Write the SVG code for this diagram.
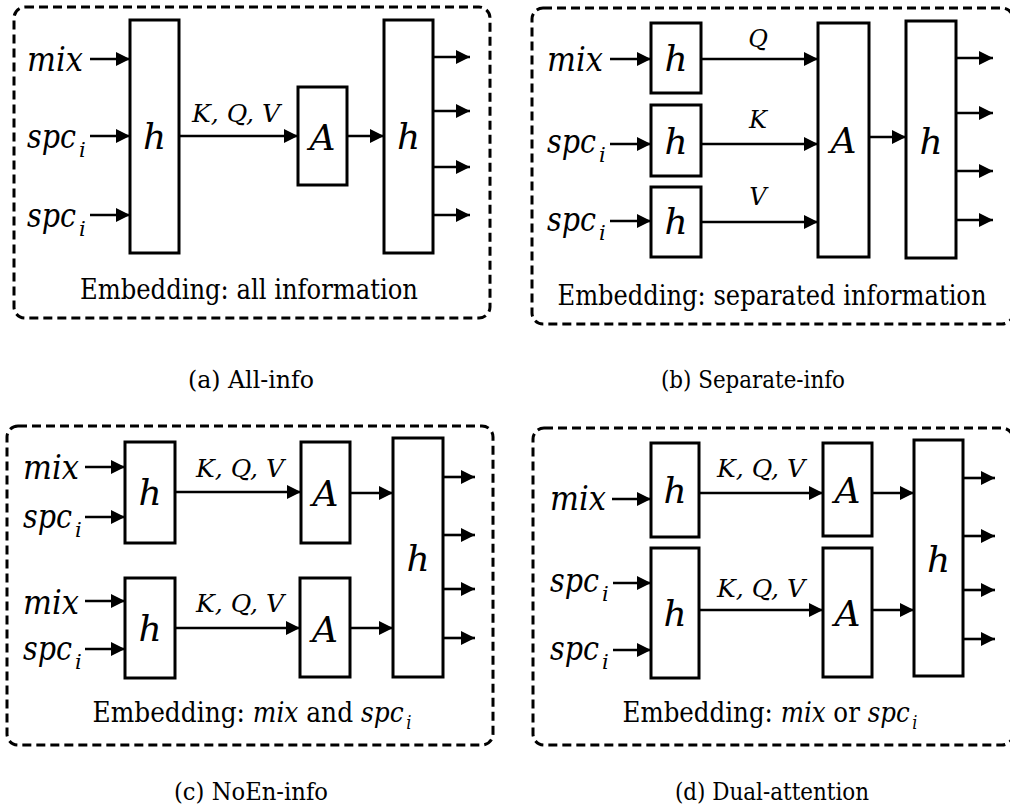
<svg xmlns="http://www.w3.org/2000/svg" width="1010" height="811" viewBox="0 0 1010 811">
<style>
.frame{fill:none;stroke:#000;stroke-width:3;stroke-dasharray:9 5}
.box{fill:#fff;stroke:#000;stroke-width:3}
.conn path{fill:none;stroke:#000;stroke-width:2.6;marker-end:url(#ah)}
text{font-family:"DejaVu Serif",serif}
.big{font-style:italic;font-size:36px;text-anchor:middle}
.lbl{font-style:italic;font-size:34px}
.sub{font-style:italic;font-size:21px}
.kqv{font-style:italic;font-size:24px;text-anchor:middle}
.emb{font-size:27.5px;text-anchor:middle}
.esub{font-size:18px}
.cap{font-size:23.5px;text-anchor:middle}
.it{font-style:italic}
</style>
<defs>
<marker id="ah" markerUnits="userSpaceOnUse" markerWidth="15" markerHeight="14" refX="14" refY="7" orient="auto">
<path d="M0,0 L14,7 L0,14 z" fill="#000"/>
</marker>
</defs>

<!-- Panel (a) -->
<g id="panel-a">
<rect class="frame" x="14" y="7" width="476" height="311" rx="11"/>
<g id="a-h1"><rect class="box" x="130" y="20" width="49" height="233"/><text class="big" x="154.5" y="149">h</text></g>
<g id="a-A"><rect class="box" x="298" y="87" width="49" height="98"/><text class="big" x="322.5" y="150">A</text></g>
<g id="a-h2"><rect class="box" x="384" y="20" width="49" height="233"/><text class="big" x="408.5" y="149">h</text></g>
<g id="a-in-mix"><text class="lbl" x="27" y="71" textLength="56" lengthAdjust="spacingAndGlyphs">mix</text></g>
<g id="a-in-spc1"><text class="lbl" x="27" y="148" textLength="49" lengthAdjust="spacingAndGlyphs">spc</text><text class="sub" x="79" y="157">i</text></g>
<g id="a-in-spc2"><text class="lbl" x="27" y="227" textLength="49" lengthAdjust="spacingAndGlyphs">spc</text><text class="sub" x="79" y="236">i</text></g>
<text class="kqv" x="236" y="122" textLength="88" lengthAdjust="spacingAndGlyphs">K, Q, V</text>
<text class="emb" x="249" y="299" textLength="338" lengthAdjust="spacingAndGlyphs">Embedding: all information</text>
</g>
<g id="a-connectors" class="conn">
<path d="M90,59 H130"/><path d="M90,136 H130"/><path d="M90,215 H130"/>
<path d="M179,136 H298"/>
<path d="M347,136 H384"/>
<path d="M433,57 H470"/><path d="M433,111 H470"/><path d="M433,167 H470"/><path d="M433,215 H470"/>
</g>
<text class="cap" x="251" y="388" textLength="126" lengthAdjust="spacingAndGlyphs">(a) All-info</text>

<!-- Panel (b) -->
<g id="panel-b">
<rect class="frame" x="532" y="8" width="481" height="316" rx="11"/>
<g id="b-h1"><rect class="box" x="651" y="23" width="50" height="70"/><text class="big" x="676" y="71">h</text></g>
<g id="b-h2"><rect class="box" x="651" y="105" width="50" height="71"/><text class="big" x="676" y="154">h</text></g>
<g id="b-h3"><rect class="box" x="651" y="187" width="50" height="70"/><text class="big" x="676" y="234">h</text></g>
<g id="b-A"><rect class="box" x="818" y="23" width="51" height="234"/><text class="big" x="843.5" y="153">A</text></g>
<g id="b-h4"><rect class="box" x="906" y="21" width="50" height="237"/><text class="big" x="931" y="154">h</text></g>
<g id="b-in-mix"><text class="lbl" x="547" y="71" textLength="56" lengthAdjust="spacingAndGlyphs">mix</text></g>
<g id="b-in-spc1"><text class="lbl" x="547" y="153" textLength="49" lengthAdjust="spacingAndGlyphs">spc</text><text class="sub" x="599" y="162">i</text></g>
<g id="b-in-spc2"><text class="lbl" x="547" y="231" textLength="49" lengthAdjust="spacingAndGlyphs">spc</text><text class="sub" x="599" y="240">i</text></g>
<text class="kqv" x="758" y="47">Q</text>
<text class="kqv" x="758" y="128">K</text>
<text class="kqv" x="758" y="205">V</text>
<text class="emb" x="772" y="305" textLength="429" lengthAdjust="spacingAndGlyphs">Embedding: separated information</text>
</g>
<g id="b-connectors" class="conn">
<path d="M610,59 H651"/><path d="M610,144 H651"/><path d="M610,221 H651"/>
<path d="M701,59 H818"/><path d="M701,144 H818"/><path d="M701,222 H818"/>
<path d="M869,137 H906"/>
<path d="M956,58 H993"/><path d="M956,113 H993"/><path d="M956,171 H993"/><path d="M956,220 H993"/>
</g>
<text class="cap" x="753" y="388" textLength="184" lengthAdjust="spacingAndGlyphs">(b) Separate-info</text>

<!-- Panel (c) -->
<g id="panel-c">
<rect class="frame" x="7" y="426" width="486" height="319" rx="11"/>
<g id="c-h1"><rect class="box" x="125" y="442" width="50" height="101"/><text class="big" x="150" y="505">h</text></g>
<g id="c-A1"><rect class="box" x="301" y="442" width="49" height="101"/><text class="big" x="325.5" y="506">A</text></g>
<g id="c-h2"><rect class="box" x="125" y="578" width="50" height="100"/><text class="big" x="150" y="641">h</text></g>
<g id="c-A2"><rect class="box" x="300" y="578" width="50" height="99"/><text class="big" x="325" y="642">A</text></g>
<g id="c-h3"><rect class="box" x="393" y="438" width="50" height="239"/><text class="big" x="418" y="571">h</text></g>
<g id="c-in-mix1"><text class="lbl" x="23" y="479" textLength="56" lengthAdjust="spacingAndGlyphs">mix</text></g>
<g id="c-in-spc1"><text class="lbl" x="23" y="528" textLength="49" lengthAdjust="spacingAndGlyphs">spc</text><text class="sub" x="75" y="537">i</text></g>
<g id="c-in-mix2"><text class="lbl" x="23" y="614" textLength="56" lengthAdjust="spacingAndGlyphs">mix</text></g>
<g id="c-in-spc2"><text class="lbl" x="23" y="660" textLength="49" lengthAdjust="spacingAndGlyphs">spc</text><text class="sub" x="75" y="669">i</text></g>
<text class="kqv" x="240" y="477" textLength="88" lengthAdjust="spacingAndGlyphs">K, Q, V</text>
<text class="kqv" x="240" y="612" textLength="88" lengthAdjust="spacingAndGlyphs">K, Q, V</text>
<text class="emb" x="252" y="722" textLength="319" lengthAdjust="spacingAndGlyphs">Embedding: <tspan class="it">mix</tspan> and <tspan class="it">spc</tspan><tspan class="it esub" dx="3" dy="7">i</tspan></text>
</g>
<g id="c-connectors" class="conn">
<path d="M85,467 H125"/><path d="M85,517 H125"/>
<path d="M85,601 H125"/><path d="M85,649 H125"/>
<path d="M175,492 H301"/><path d="M175,628 H300"/>
<path d="M350,493 H393"/><path d="M350,628 H393"/>
<path d="M443,477 H475"/><path d="M443,535 H475"/><path d="M443,589 H475"/><path d="M443,638 H475"/>
</g>
<text class="cap" x="251" y="800" textLength="154" lengthAdjust="spacingAndGlyphs">(c) NoEn-info</text>

<!-- Panel (d) -->
<g id="panel-d">
<rect class="frame" x="533" y="428" width="480" height="317" rx="11"/>
<g id="d-h1"><rect class="box" x="651" y="443" width="48" height="94"/><text class="big" x="675" y="503">h</text></g>
<g id="d-A1"><rect class="box" x="823" y="443" width="49" height="93"/><text class="big" x="847.5" y="503">A</text></g>
<g id="d-h2"><rect class="box" x="651" y="548" width="48" height="130"/><text class="big" x="675" y="626">h</text></g>
<g id="d-A2"><rect class="box" x="823" y="548" width="49" height="129"/><text class="big" x="847.5" y="626">A</text></g>
<g id="d-h3"><rect class="box" x="914" y="440" width="49" height="236"/><text class="big" x="938.5" y="572">h</text></g>
<g id="d-in-mix"><text class="lbl" x="550" y="510" textLength="56" lengthAdjust="spacingAndGlyphs">mix</text></g>
<g id="d-in-spc1"><text class="lbl" x="550" y="592" textLength="49" lengthAdjust="spacingAndGlyphs">spc</text><text class="sub" x="602" y="601">i</text></g>
<g id="d-in-spc2"><text class="lbl" x="550" y="660" textLength="49" lengthAdjust="spacingAndGlyphs">spc</text><text class="sub" x="602" y="669">i</text></g>
<text class="kqv" x="761" y="477" textLength="88" lengthAdjust="spacingAndGlyphs">K, Q, V</text>
<text class="kqv" x="761" y="597" textLength="88" lengthAdjust="spacingAndGlyphs">K, Q, V</text>
<text class="emb" x="770" y="722" textLength="295" lengthAdjust="spacingAndGlyphs">Embedding: <tspan class="it">mix</tspan> or <tspan class="it">spc</tspan><tspan class="it esub" dx="3" dy="7">i</tspan></text>
</g>
<g id="d-connectors" class="conn">
<path d="M612,499 H651"/><path d="M613,583 H651"/><path d="M613,650 H651"/>
<path d="M699,493 H823"/><path d="M699,610 H823"/>
<path d="M872,493 H914"/><path d="M872,610 H914"/>
<path d="M963,478 H995"/><path d="M963,536 H995"/><path d="M963,590 H995"/><path d="M963,639 H995"/>
</g>
<text class="cap" x="772" y="800" textLength="194" lengthAdjust="spacingAndGlyphs">(d) Dual-attention</text>
</svg>
